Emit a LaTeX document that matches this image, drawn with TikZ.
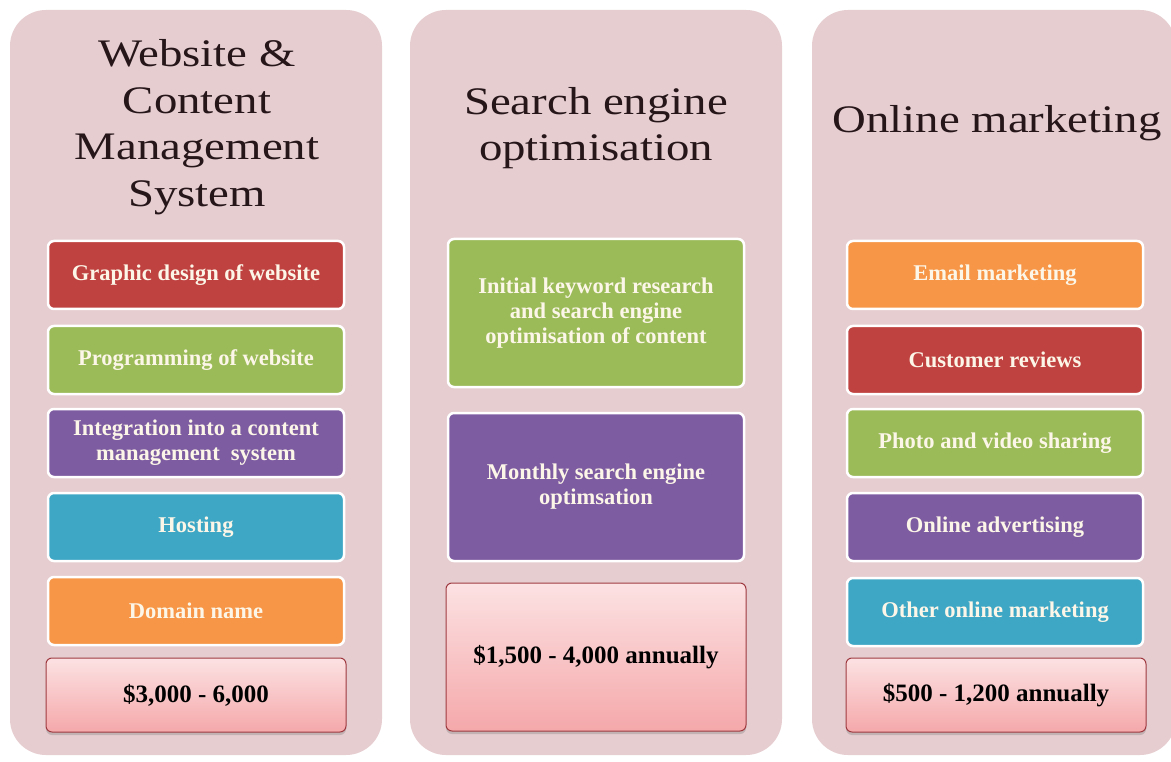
\documentclass[tikz,border=0pt]{standalone}
\usepackage{fontspec}
\setmainfont{Liberation Serif}
\newfontfamily\headfont[FakeStretch=1.2]{Liberation Serif}
\usetikzlibrary{shadows}
\definecolor{panelpink}{RGB}{230,205,208}
\definecolor{headtext}{RGB}{38,22,26}
\definecolor{itemtext}{RGB}{252,246,232}
\definecolor{boxred}{RGB}{192,66,64}
\definecolor{boxgreen}{RGB}{155,187,89}
\definecolor{boxpurple}{RGB}{126,92,161}
\definecolor{boxteal}{RGB}{62,167,197}
\definecolor{boxorange}{RGB}{247,150,70}
\definecolor{pricetop}{RGB}{252,226,227}
\definecolor{pricebot}{RGB}{245,168,170}
\definecolor{priceline}{RGB}{158,58,64}
\tikzset{
  head/.style={font=\headfont\fontsize{39}{46.5}\selectfont, text=headtext, align=center, inner sep=0pt},
  item/.style={rounded corners=6pt, draw=white, line width=2.5pt, minimum width=296pt, minimum height=#1,
    font=\bfseries\fontsize{22.5}{25}\selectfont, text=itemtext, align=center, inner sep=2pt},
  item/.default=68pt,
  price/.style={rounded corners=6pt, draw=priceline, line width=1pt, top color=pricetop, bottom color=pricebot,
    minimum width=300pt, minimum height=#1, font=\bfseries\fontsize{25}{28}\selectfont, text=black,
    drop shadow={opacity=0.35, shadow xshift=0pt, shadow yshift=-3pt}},
  price/.default=74pt
}
\begin{document}
\begin{tikzpicture}[x=1pt,y=-1pt]
\useasboundingbox (0,0) rectangle (1171,762);
%panels
\fill[panelpink, rounded corners=36pt] (10,10) rectangle (382,755);%col1
\fill[panelpink, rounded corners=36pt] (410,10) rectangle (782,755);%col2
\fill[panelpink, rounded corners=36pt] (812,10) rectangle (1176,755);%col3
%%titles
\node[head] at (197,127) (web) {Website \&\\Content\\Management\\System};
\node[head] at (596,128) (seo) {Search engine\\optimisation};
\node[head] at (997,123) (mkt) {Online marketing};
%%col1
\node[item, fill=boxred] at (196,275) (graphic) {Graphic design of website};
\node[item, fill=boxgreen] at (196,360) (prog) {Programming of website};
\node[item, fill=boxpurple] at (196,443) (cms) {Integration into a content\\management\ \ system};
\node[item, fill=boxteal] at (196,527) (host) {Hosting};
\node[item, fill=boxorange] at (196,611) (domain) {Domain name};
\node[price] at (196,695) (cost1) {\$3,000 - 6,000};
%%col2
\node[item=148pt, fill=boxgreen] at (596,313) (keyword) {Initial keyword research\\and search engine\\optimisation of content};
\node[item=148pt, fill=boxpurple] at (596,487) (monthly) {Monthly search engine\\optimsation};
\node[price=148pt] at (596,657) (cost2) {\$1,500 - 4,000 annually};
%%col3
\node[item, fill=boxorange] at (995,275) (email) {Email marketing};
\node[item, fill=boxred] at (995,360) (reviews) {Customer reviews};
\node[item, fill=boxgreen] at (995,443) (photo) {Photo and video sharing};
\node[item, fill=boxpurple] at (995,527) (advert) {Online advertising};
\node[item, fill=boxteal] at (995,612) (other) {Other online marketing};
\node[price] at (996,695) (cost3) {\$500 - 1,200 annually};
\end{tikzpicture}
\end{document}
